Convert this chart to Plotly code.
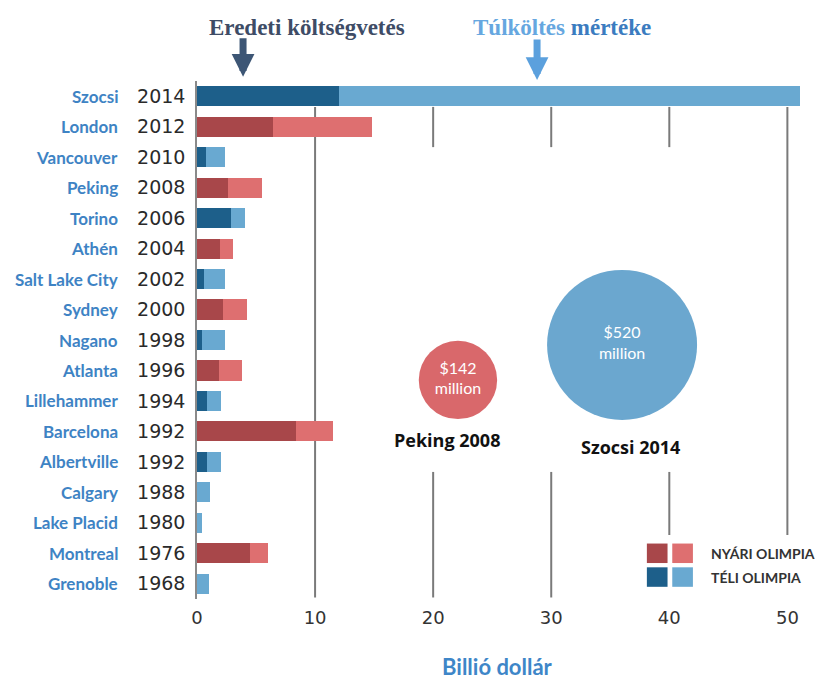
import plotly.graph_objects as go

# Olympic games, top to bottom
cities = ["Szocsi", "London", "Vancouver", "Peking", "Torino", "Athén", "Salt Lake City",
          "Sydney", "Nagano", "Atlanta", "Lillehammer", "Barcelona", "Albertville",
          "Calgary", "Lake Placid", "Montreal", "Grenoble"]
years = ["2014", "2012", "2010", "2008", "2006", "2004", "2002", "2000", "1998",
         "1996", "1994", "1992", "1992", "1988", "1980", "1976", "1968"]
# N = nyári (summer), T = téli (winter)
season = ["T", "N", "T", "N", "T", "N", "T", "N", "T", "N", "T", "N", "T", "T", "T", "N", "T"]
# billion dollars
budget = [12.0, 6.4, 0.8, 2.6, 2.9, 1.95, 0.6, 2.2, 0.4, 1.9, 0.85, 8.4, 0.85, 0, 0, 4.5, 0]
total = [51.1, 14.8, 2.35, 5.5, 4.1, 3.05, 2.4, 4.2, 2.4, 3.85, 2.0, 11.5, 2.0, 1.1, 0.45, 6.0, 1.0]
overrun = [t - b for t, b in zip(total, budget)]

# per-venue spend in the bubbles (million dollars)
bubble_names = ["Peking 2008", "Szocsi 2014"]
bubble_values = [142, 520]

DARK = {"N": "#a8474a", "T": "#1d5f8a"}
LIGHT = {"N": "#de6f70", "T": "#69a9d1"}

rows = list(range(len(cities)))

fig = go.Figure()

fig.add_trace(go.Bar(
    y=rows, x=budget, orientation="h", width=0.66,
    marker=dict(color=[DARK[s] for s in season], line=dict(width=0)),
    hoverinfo="skip", showlegend=False
))
fig.add_trace(go.Bar(
    y=rows, x=overrun, orientation="h", width=0.66,
    marker=dict(color=[LIGHT[s] for s in season], line=dict(width=0)),
    hoverinfo="skip", showlegend=False
))

# bubbles
fig.add_trace(go.Scatter(
    x=[22.1, 36.0], y=[9.31, 8.16], mode="markers+text",
    marker=dict(size=bubble_values, sizemode="area", sizeref=520 / (2 * 75 ** 2),
                color=["#d9686b", "#6ba7cf"], opacity=1, line=dict(width=0)),
    text=[f"${v}<br>million" for v in bubble_values],
    textposition="middle center",
    textfont=dict(family="Lato", size=16, color="white"),
    hoverinfo="skip", showlegend=False
))

annotations = []
for i, c in enumerate(cities):
    annotations.append(dict(
        x=-0.1255, y=i, xref="paper", yref="y", text=c, showarrow=False,
        xanchor="right", yanchor="middle",
        font=dict(family="Lato", size=17, color="#3e83c4", weight="bold")
    ))

for name, x, y in zip(bubble_names, [21.2, 36.7], [11.28, 11.5]):
    annotations.append(dict(
        x=x, y=y, xref="x", yref="y", text=f"<b>{name}</b>", showarrow=False,
        xanchor="center", yanchor="middle",
        font=dict(family="Open Sans", size=18, color="#111")
    ))

# header texts and arrows
annotations += [
    dict(x=0.179, y=1.104, xref="paper", yref="paper", showarrow=False,
         xanchor="center", yanchor="middle",
         text="<b>Eredeti költségvetés</b>",
         font=dict(family="Liberation Serif", size=23, color="#3e4c66")),
    dict(x=0.595, y=1.104, xref="paper", yref="paper", showarrow=False,
         xanchor="center", yanchor="middle",
         text="<b><span style='color:#66a7e0'>Túlköltés</span> "
              "<span style='color:#3b7cc0'>mértéke</span></b>",
         font=dict(family="Liberation Serif", size=23)),
    dict(x=3.9, y=1.008, xref="x", yref="paper", ax=0, ay=-40,
         showarrow=True, arrowhead=2, arrowsize=0.65, arrowwidth=7,
         arrowcolor="#3d5675", text=""),
    dict(x=28.8, y=1.002, xref="x", yref="paper", ax=0, ay=-42,
         showarrow=True, arrowhead=2, arrowsize=0.65, arrowwidth=7,
         arrowcolor="#5ba0dd", text=""),
    dict(x=0.489, y=-0.131, xref="paper", yref="paper", showarrow=False,
         xanchor="center", yanchor="middle",
         text="Billió dollár",
         font=dict(family="Lato", size=22, color="#3e86c8", weight="bold")),
]

# legend
legend_rows = [("NYÁRI OLIMPIA", "N", 15.0), ("TÉLI OLIMPIA", "T", 15.78)]
shapes = []
for label, s, yc in legend_rows:
    shapes.append(dict(type="rect", xref="x", yref="y", x0=38.1, x1=39.85,
                       y0=yc - 0.32, y1=yc + 0.32, fillcolor=DARK[s], line=dict(width=0)))
    shapes.append(dict(type="rect", xref="x", yref="y", x0=40.25, x1=42.0,
                       y0=yc - 0.32, y1=yc + 0.32, fillcolor=LIGHT[s], line=dict(width=0)))
    annotations.append(dict(
        x=43.4, y=yc, xref="x", yref="y", text=label, showarrow=False,
        xanchor="left", yanchor="middle",
        font=dict(family="Lato", size=14, color="#333", weight="bold")
    ))

# broken grid lines
GRID = dict(color="#7a7a7a", width=2)
segments = [(10, 0.35, 16.45), (20, 0.35, 1.67), (30, 0.35, 1.67), (40, 0.35, 1.67),
            (50, 0.35, 14.4), (20, 12.33, 16.45), (30, 12.33, 16.45), (40, 12.33, 14.4)]
for gx, y0, y1 in segments:
    shapes.append(dict(type="line", xref="x", yref="y", x0=gx, x1=gx, y0=y0, y1=y1,
                       line=GRID, layer="below"))

# page body adds an 8px offset, margins compensate for it
fig.update_layout(
    width=825, height=684,
    margin=dict(l=189, r=22, t=73, b=93, autoexpand=False),
    plot_bgcolor="white", paper_bgcolor="white",
    barmode="stack", bargap=0.34,
    font=dict(family="DejaVu Sans", size=17, color="#333"),
    xaxis=dict(range=[0, 52], tickvals=[0, 10, 20, 30, 40, 50], showgrid=False,
               zeroline=False, showline=False, ticks="", ticklabelstandoff=6,
               tickfont=dict(family="DejaVu Sans", size=18, color="#333")),
    yaxis=dict(range=[16.5, -0.5], tickvals=rows, ticktext=years, showgrid=False,
               zeroline=False, showline=True, linecolor="#8a8a8a", linewidth=1.5,
               ticks="", ticklabelstandoff=6,
               tickfont=dict(family="DejaVu Sans", size=19, color="#2a2a2a")),
    annotations=annotations,
    shapes=shapes,
)

fig.write_html("out.html")
